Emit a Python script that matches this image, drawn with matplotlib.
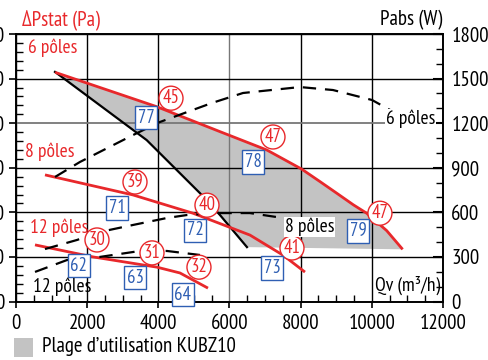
import matplotlib
matplotlib.use("Agg")
import matplotlib.pyplot as plt
from matplotlib.ticker import MultipleLocator
from matplotlib.patches import Rectangle

plt.rcParams['font.family'] = ['PT Sans Narrow', 'DejaVu Sans']

# ---- data (Q in m3/h, pressure in Pa, power in W) ----
p6_q = [1100, 3954, 5732, 7045, 8028, 8542, 9012, 9478, 9855, 10417, 10866]
p6_p = [514, 437, 381, 340, 297, 269, 243, 217, 198, 159, 117]

p8_q = [815, 3288, 4974, 6575, 7503, 8121]
p8_p = [284, 239, 198, 149, 104, 66]

p12_q = [534, 2164, 3962, 4608, 5395]
p12_p = [127, 100, 77, 64, 30]

lim_q = [1096, 3673, 5170, 5732, 6491]
lim_p = [515, 362, 243, 194, 122]

w6_q = [1096, 1798, 3288, 4046, 5508, 6379, 7980, 8908, 10004, 10509]
w6_w = [838, 939, 1120, 1208, 1336, 1403, 1443, 1423, 1356, 1289]

w8_q = [815, 1714, 2360, 3288, 4243, 4805, 5648, 6575, 7503]
w8_w = [353, 414, 468, 515, 562, 582, 595, 595, 562]

w12_q = [534, 1433, 2360, 3484, 4243, 5170]
w12_w = [199, 279, 300, 340, 340, 313]

circle_labels = ['45', '47', '39', '40', '30', '31', '32', '41', '47']
circle_q = [4356, 7222, 3344, 5367, 2276, 3822, 5142, 7756, 10228]
circle_p = [456, 369, 268, 216, 138, 109, 77, 120, 198]

box_labels = ['77', '78', '79', '71', '72', '62', '63', '64', '73']
box_q = [3653, 6660, 9610, 2838, 5030, 1770, 3344, 4693, 7194]
box_p = [412, 313, 158, 210, 160, 80, 53, 15, 75]

x_ticks = [0, 2000, 4000, 6000, 8000, 10000, 12000]
p_ticks = [0, 100, 200, 300, 400, 500, 600]
w_ticks = [0, 300, 600, 900, 1200, 1500, 1800]

RED = '#e8282b'
BLUE = '#2f5fb3'
GRAY = '#c3c3c3'

fig = plt.figure(figsize=(4.89, 3.6), dpi=100)
ax = fig.add_axes([16/489, (360-301.5)/360, 427/489, 267.5/360])
ax.set_xlim(0, 12000)
ax.set_ylim(0, 600)
ax.set_xticks(x_ticks)
ax.set_yticks(p_ticks)
ax.xaxis.set_minor_locator(MultipleLocator(500))
ax.yaxis.set_minor_locator(MultipleLocator(20))
ax.set_axisbelow('line')
ax.grid(True, which='major', color='black', lw=1.0)
for gl, v in zip(ax.get_xgridlines(), x_ticks):
    if v == 6000:
        gl.set_color('#777777')
for gl, v in zip(ax.get_ygridlines(), p_ticks):
    if v == 400:
        gl.set_color('#777777')
        gl.set_linewidth(1.3)
for s in ax.spines.values():
    s.set_linewidth(1.2)

ax.tick_params(axis='x', which='major', direction='out', length=4, width=1.2, pad=5, labelsize=15)
ax.tick_params(axis='x', which='minor', direction='in', length=5, width=1)
ax.tick_params(axis='y', which='major', direction='out', length=5, width=1.2, pad=3, labelsize=15)
ax.tick_params(axis='y', which='minor', direction='in', length=5, width=1)

# usage range fill
poly_q = p6_q + lim_q[::-1]
poly_p = p6_p + lim_p[::-1]
ax.fill(poly_q, poly_p, color=GRAY, lw=0, zorder=1)

ax.plot(lim_q, lim_p, color='black', lw=1.6, zorder=3)
ax.plot(p6_q, p6_p, color=RED, lw=2.0, zorder=3, solid_capstyle='butt')
ax.plot(p8_q, p8_p, color=RED, lw=2.0, zorder=3, solid_capstyle='butt')
ax.plot(p12_q, p12_p, color=RED, lw=2.0, zorder=3, solid_capstyle='butt')

ax2 = ax.twinx()
ax2.set_ylim(0, 1800)
ax2.set_yticks(w_ticks)
ax2.yaxis.set_minor_locator(MultipleLocator(100))
ax2.tick_params(axis='y', which='major', direction='in', length=7, width=1.5, pad=6, labelsize=15)
ax2.tick_params(axis='y', which='minor', direction='in', length=5, width=1)
for s in ax2.spines.values():
    s.set_linewidth(1.2)

dash = (0, (6, 4))
ax2.plot(w6_q, w6_w, color='black', lw=1.6, linestyle=dash)
ax2.plot(w8_q, w8_w, color='black', lw=1.6, linestyle=dash)
ax2.plot(w12_q, w12_w, color='black', lw=1.6, linestyle=dash)

# circled / boxed labels
for t, q, p in zip(circle_labels, circle_q, circle_p):
    ax2.text(q, p, t, transform=ax.transData, color=RED, fontsize=13.5,
             ha='center', va='center', zorder=6,
             bbox=dict(boxstyle='circle,pad=0.16', fc='white', ec=RED, lw=1.0))
for t, q, p in zip(box_labels, box_q, box_p):
    ax2.text(q, p, t, transform=ax.transData, color=BLUE, fontsize=13.5,
             ha='center', va='center', zorder=6,
             bbox=dict(boxstyle='square,pad=0.14', fc='white', ec=BLUE, lw=1.0))

def ftext(x, y, s, **kw):
    fig.text(x/489, 1 - y/360, s, **kw)

ftext(22, 20, 'ΔPstat (Pa)', color=RED, fontsize=15, va='center', ha='left')
ftext(442, 20, 'Pabs (W)', color='black', fontsize=15, va='center', ha='right')
ftext(28, 48, '6 pôles', color=RED, fontsize=14, va='center', ha='left')
ftext(25, 152, '8 pôles', color=RED, fontsize=14, va='center', ha='left')
ftext(30, 228, '12 pôles', color=RED, fontsize=14, va='center', ha='left')
ftext(33, 287, '12 pôles', color='black', fontsize=14, va='center', ha='left')
ftext(386, 119, '6 pôles', color='black', fontsize=14, va='center', ha='left',
      bbox=dict(boxstyle='square,pad=0.05', fc='white', ec='none'))
ftext(285, 227, '8 pôles', color='black', fontsize=14, va='center', ha='left',
      bbox=dict(boxstyle='square,pad=0.05', fc='white', ec='none'))
ftext(440, 285, 'Qv (m³/h)', color='black', fontsize=14, va='center', ha='right')

# legend
fig.add_artist(Rectangle((14/489, (360-357)/360), 19/489, 19/360,
                         transform=fig.transFigure, color=GRAY, lw=0))
ftext(42, 347, 'Plage d’utilisation KUBZ10', color='black', fontsize=15,
      va='center', ha='left')

fig.savefig('out.png', dpi=100)
